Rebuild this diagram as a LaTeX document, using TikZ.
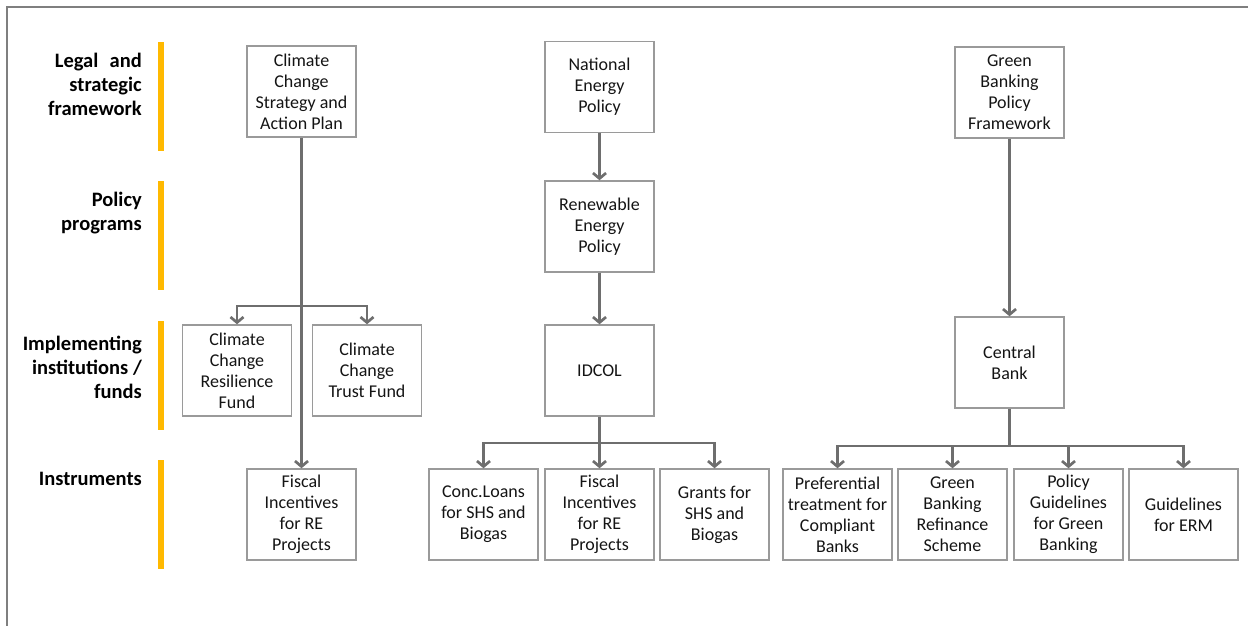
\documentclass[tikz,border=0pt]{standalone}
\usepackage{fontspec}
\setmainfont{Carlito}
\usetikzlibrary{arrows.meta}
\definecolor{framegray}{HTML}{7F7F7F}
\definecolor{boxgray}{HTML}{9A9A9A}
\definecolor{linkgray}{HTML}{6E6E6E}
\definecolor{levelbar}{HTML}{FFB900}
\tikzset{
  box/.style={draw=boxgray, line width=1.4pt, minimum width=109pt, minimum height=91pt,
    inner sep=1pt, align=center, text=black!92, font=\fontsize{18}{21}\selectfont},
  link/.style={draw=linkgray, line width=2.7pt,
    -{Straight Barb[length=5.5pt,width=13pt]}},
  trunk/.style={draw=linkgray, line width=2.7pt},
  rowlabel/.style={anchor=east, align=right, inner sep=0pt,
    font=\bfseries\fontsize{20.5}{24}\selectfont},
  levelbar/.style={fill=levelbar, draw=none}
}
\begin{document}
\begin{tikzpicture}[x=1pt,y=-1pt]
\useasboundingbox (0,0) rectangle (1248,626);
% outer frame (top and left edges)
\draw[framegray, line width=2pt] (7,626) -- (7,7.5) -- (1248,7.5);

% level labels and bars
\node[rowlabel] (lLegal) at (142,84) {Legal\hspace{0.55em}and\\strategic\\framework};
\node[rowlabel] (lPolicy) at (142,213) {Policy\\programs};
\node[rowlabel] (lImpl) at (142,367) {Implementing\\institutions /\\funds};
\node[rowlabel] (lInstr) at (142,479) {Instruments};
\fill[levelbar] (158,42) rectangle (164,151);
\fill[levelbar] (158,181) rectangle (164,290);
\fill[levelbar] (158,321) rectangle (164,430);
\fill[levelbar] (158,460) rectangle (164,569);

% climate change branch
\node[box] (ccsap) at (301.5,91.5) {Climate\\Change\\Strategy and\\Action Plan};
\node[box] (ccrf) at (237,370.5) {Climate\\Change\\Resilience\\Fund};
\node[box] (cctf) at (367,370.5) {Climate\\Change\\Trust Fund};
\node[box] (fiscA) at (301.5,514.5) {Fiscal\\Incentives\\for RE\\Projects};

% energy branch
\node[box] (nep) at (599.5,87) {National\\Energy\\Policy};
\node[box] (rep) at (599.5,226.5) {Renewable\\Energy\\Policy};
\node[box] (idcol) at (599.5,370.5) {IDCOL};
\node[box] (conc) at (483.5,514.5) {Conc.Loans\\for SHS and\\Biogas};
\node[box] (fiscB) at (599.5,514.5) {Fiscal\\Incentives\\for RE\\Projects};
\node[box] (grant) at (714.5,514.5) {Grants for\\SHS and\\Biogas};

% green banking branch
\node[box] (gbpf) at (1009.5,92.5) {Green\\Banking\\Policy\\Framework};
\node[box] (cb) at (1009.5,362.5) {Central\\Bank};
\node[box] (pref) at (837.5,514.5) {Preferential\\treatment for\\Compliant\\Banks};
\node[box] (gbrs) at (952.5,514.5) {Green\\Banking\\Refinance\\Scheme};
\node[box] (pggb) at (1068.5,514.5) {Policy\\Guidelines\\for Green\\Banking};
\node[box] (germ) at (1183.5,514.5) {Guidelines\\for ERM};

% connectors: climate change
\draw[link] (ccsap.south) -- (fiscA.north);
\coordinate (jA) at (301.5,306);
\draw[link] (jA) -| (ccrf.north);
\draw[link] (jA) -| (cctf.north);

% connectors: energy
\draw[link] (nep) -- (rep);
\draw[link] (rep) -- (idcol);
\coordinate (jB) at (599.5,443);
\draw[trunk] (idcol.south) -- (jB);
\draw[link] (jB) -| (conc.north);
\draw[link] (jB) -- (fiscB.north);
\draw[link] (jB) -| (grant.north);

% connectors: green banking
\draw[link] (gbpf) -- (cb);
\coordinate (jC) at (1009.5,446);
\draw[trunk] (cb.south) -- (jC);
\draw[link] (jC) -| (pref.north);
\draw[link] (jC) -| (gbrs.north);
\draw[link] (jC) -| (pggb.north);
\draw[link] (jC) -| (germ.north);
\end{tikzpicture}
\end{document}
